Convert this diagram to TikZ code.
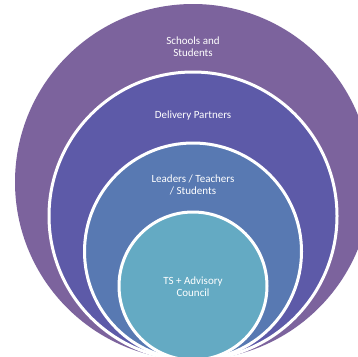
\documentclass[tikz,border=0pt]{standalone}
\usepackage{fontspec}
\setmainfont{Carlito}
\usepackage{tikz}
\usetikzlibrary{positioning}

\definecolor{ringA}{RGB}{124,99,157}
\definecolor{ringB}{RGB}{93,90,168}
\definecolor{ringC}{RGB}{88,121,178}
\definecolor{ringD}{RGB}{100,170,195}

\begin{document}
\begin{tikzpicture}[
        x=1pt, y=1pt,
        ring/.style={circle, draw=white, line width=3pt, inner sep=0pt},
        tag/.style={text=white, align=center, font=\fontsize{11}{12}\selectfont},
    ]
    \useasboundingbox (0,0) rectangle (358,-356);
    \clip (0,0) rectangle (358,-356);

    % Rings, all touching at the bottom
    \node[ring, draw=none, fill=ringA, minimum size=356pt] (schools) at (193,-182) {};
    \node[ring, fill=ringB, minimum size=288pt] (partners) at (193,-216) {};
    \node[ring, fill=ringC, minimum size=217pt] (leaders) at (193,-251.5) {};
    \node[ring, fill=ringD, minimum size=148pt] (council) at (193,-286) {};

    % Labels
    \node[tag] (schoolsText) at (193,-46.5) {Schools and\\Students};
    \node[tag] (partnersText) at (193,-116) {Delivery Partners};
    \node[tag] (leadersText) at (193,-184.5) {Leaders / Teachers\\/ Students};
    \node[tag] (councilText) at (193,-287) {TS + Advisory\\Council};
\end{tikzpicture}
\end{document}
